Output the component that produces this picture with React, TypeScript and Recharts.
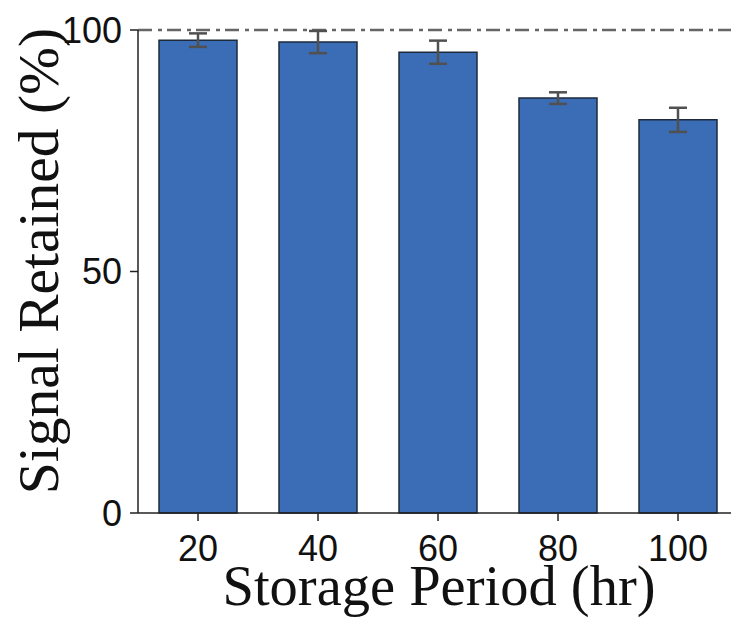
import { BarChart, Bar, XAxis, YAxis, ErrorBar, ReferenceLine, Label } from "recharts";

const periods = ["20", "40", "60", "80", "100"];
const retained = [97.9, 97.5, 95.4, 85.9, 81.4];
const errors = [1.4, 2.3, 2.4, 1.2, 2.5];
const yTicks = [0, 50, 100];

const data = periods.map((p, i) => ({ period: p, value: retained[i], err: errors[i] }));

const serif = "'Liberation Serif', 'DejaVu Serif', serif";
const sans = "'Liberation Sans', Arial, sans-serif";

const App = () => {
  return (
    <div style={{ position: "absolute", left: 0, top: 0, width: 731, height: 620, overflow: "hidden", background: "#fff" }}>
      <BarChart width={740} height={620} data={data} margin={{ top: 30, right: 2, bottom: 0, left: 0 }}>
        <XAxis
          dataKey="period"
          height={107}
          tickSize={8}
          tickMargin={14}
          axisLine={{ stroke: "#222", strokeWidth: 1.5 }}
          tickLine={{ stroke: "#222", strokeWidth: 1.5 }}
          tick={{ fill: "#111", fontSize: 36, fontFamily: sans }}
        >
          <Label
            content={() => (
              <text x={439} y={605} textAnchor="middle" fill="#111" fontSize={56.5} fontFamily={serif}>
                Storage Period (hr)
              </text>
            )}
          />
        </XAxis>
        <YAxis
          type="number"
          domain={[0, 100]}
          ticks={yTicks}
          width={138}
          tickSize={8}
          tickMargin={8}
          axisLine={{ stroke: "#222", strokeWidth: 1.5 }}
          tickLine={{ stroke: "#222", strokeWidth: 1.5 }}
          tick={{ fill: "#111", fontSize: 36, fontFamily: sans }}
        >
          <Label
            content={() => (
              <text x={58} y={261} transform="rotate(-90 58 261)" textAnchor="middle" fill="#111" fontSize={57.5} fontFamily={serif}>
                Signal Retained (%)
              </text>
            )}
          />
        </YAxis>
        <ReferenceLine y={100} stroke="#666" strokeWidth={2.5} strokeDasharray="14 6 4 5" />
        <Bar dataKey="value" barSize={78} fill="#3a6db5" stroke="#1c2a3c" strokeWidth={1.5} isAnimationActive={false}>
          <ErrorBar dataKey="err" width={9} stroke="#505050" strokeWidth={2.5} direction="y" />
        </Bar>
      </BarChart>
    </div>
  );
};

export default App;
